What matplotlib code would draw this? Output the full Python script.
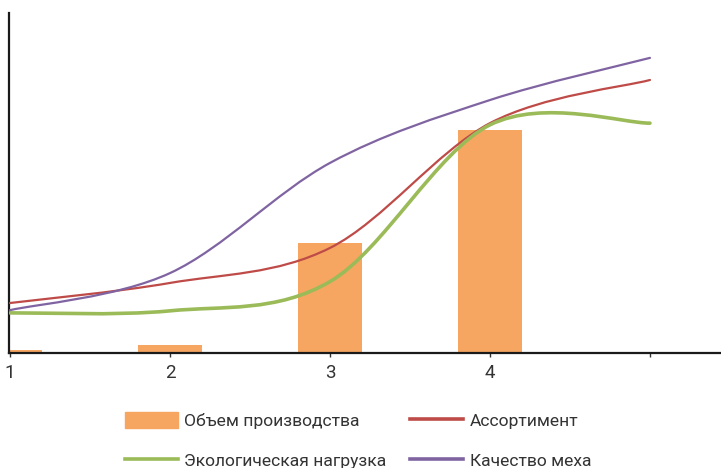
import matplotlib.pyplot as plt
from matplotlib.path import Path
from matplotlib.patches import PathPatch, Patch
from matplotlib.lines import Line2D

plt.rcParams['font.family'] = ['Roboto', 'DejaVu Sans']

# data (arbitrary units 0..100)
categories = [1, 2, 3, 4, 5]
tick_labels = ['1', '2', '3', '4', '']
volume = [0.9, 2.4, 32.4, 65.6, 0]          # Объем производства
assortment = [14.7, 20.6, 30.9, 67.6, 80.3]  # Ассортимент
ecology = [11.8, 12.4, 21.0, 67.1, 67.6]     # Экологическая нагрузка
fur_quality = [12.6, 23.5, 55.9, 74.4, 86.8] # Качество меха

bar_color = '#F6A661'
red = '#BE4B48'
green = '#9BBB59'
purple = '#8064A2'


def smooth_path(xs, ys):
    # excel-like smoothed line: cubic bezier through each point
    pts = list(zip(xs, ys))
    n = len(pts)
    verts = [pts[0]]
    codes = [Path.MOVETO]
    for i in range(n - 1):
        p0 = pts[i - 1] if i > 0 else pts[i]
        p1 = pts[i]
        p2 = pts[i + 1]
        p3 = pts[i + 2] if i + 2 < n else pts[i + 1]
        c1 = (p1[0] + (p2[0] - p0[0]) / 6, p1[1] + (p2[1] - p0[1]) / 6)
        c2 = (p2[0] - (p3[0] - p1[0]) / 6, p2[1] - (p3[1] - p1[1]) / 6)
        verts += [c1, c2, p2]
        codes += [Path.CURVE4] * 3
    return Path(verts, codes)


fig = plt.figure(figsize=(7.21, 4.68), dpi=100)
ax = fig.add_axes([9 / 721, 1 - 353 / 468, 1 - 9 / 721, 340 / 468])

ax.bar(categories, volume, width=0.4, color=bar_color, zorder=1)

for vals, col, lw in [(assortment, red, 1.6), (ecology, green, 2.6), (fur_quality, purple, 1.6)]:
    ax.add_patch(PathPatch(smooth_path(categories, vals), fill=False,
                           edgecolor=col, linewidth=lw, capstyle='round', zorder=3))

ax.set_xlim(0.994, 5.444)
ax.set_ylim(0, 100)
ax.set_xticks(categories)
ax.set_xticklabels(tick_labels, fontsize=13.5, color='#333333')
ax.set_yticks([])
ax.tick_params(axis='x', direction='out', length=3, width=1, color='#333333', pad=5)
for s in ['top', 'right']:
    ax.spines[s].set_visible(False)
for s in ['left', 'bottom']:
    ax.spines[s].set_linewidth(1.6)
    ax.spines[s].set_color('#1a1a1a')

handles = [
    Patch(color=bar_color, label='Объем производства'),
    Line2D([], [], color=green, lw=2.6, label='Экологическая нагрузка'),
    Line2D([], [], color=red, lw=2.6, label='Ассортимент'),
    Line2D([], [], color=purple, lw=2.6, label='Качество меха'),
]
leg = fig.legend(handles=handles, ncol=2, loc='upper left',
                 bbox_to_anchor=(125 / 721, 1 - 412 / 468), frameon=False,
                 fontsize=12.6, borderpad=0, borderaxespad=0,
                 handlelength=3.0, handleheight=1.0, handletextpad=0.4,
                 columnspacing=1.35, labelspacing=1.35)
for t in leg.get_texts():
    t.set_color('#333333')

plt.savefig('out.png', dpi=100)
